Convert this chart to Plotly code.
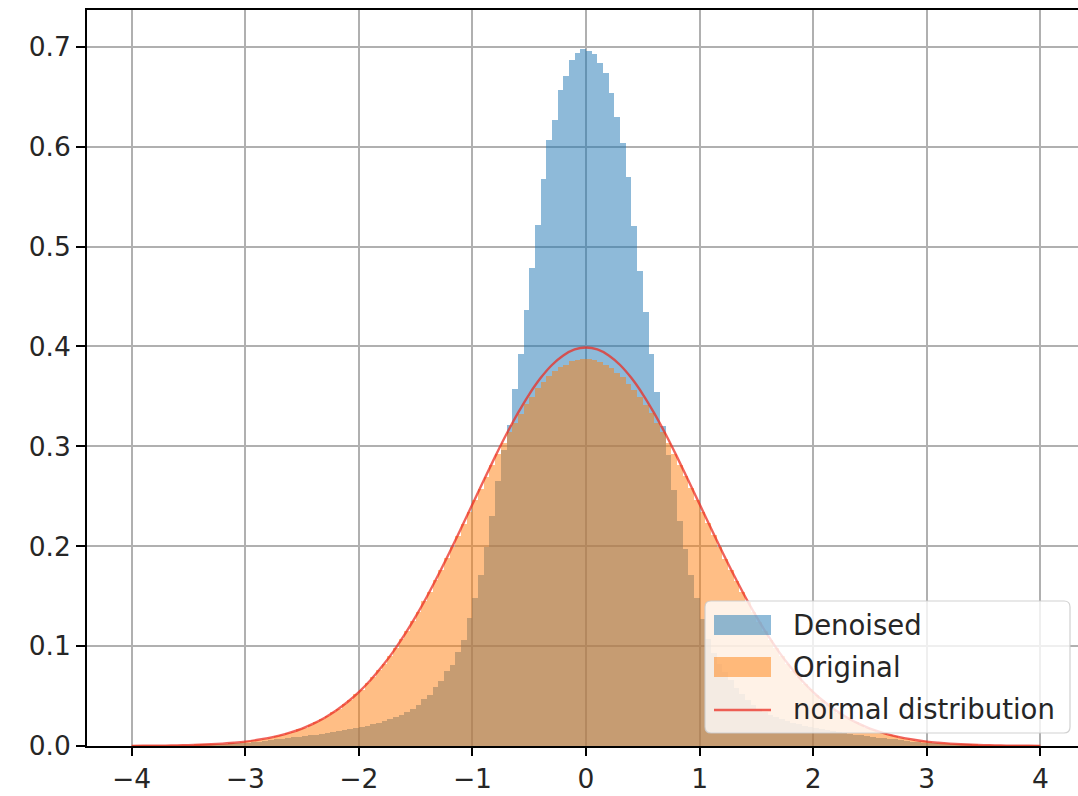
import numpy as np
import plotly.graph_objects as go

# Histogram bins: 160 bins of width 0.05 spanning [-4, 4]
BIN_START = -4.0
BIN_WIDTH = 0.05

# Density of the denoised signal per bin (left to right)
denoised = [
    0.0002, 0.0003, 0.0002, 0.0004, 0.0003, 0.0005, 0.0004, 0.0006, 0.0008, 0.0007,
    0.0010, 0.0009, 0.0013, 0.0013, 0.0017, 0.0019, 0.0020, 0.0026, 0.0026, 0.0032,
    0.0034, 0.0042, 0.0044, 0.0053, 0.0058, 0.0068, 0.0071, 0.0079, 0.0088, 0.0092,
    0.0098, 0.0108, 0.0112, 0.0119, 0.0133, 0.0138, 0.0154, 0.0158, 0.0172, 0.0179,
    0.0193, 0.0204, 0.0216, 0.0235, 0.0247, 0.0274, 0.0288, 0.0314, 0.0336, 0.0375,
    0.0408, 0.0466, 0.0515, 0.0588, 0.0655, 0.0748, 0.0815, 0.0942, 0.1065, 0.1278,
    0.1485, 0.1712, 0.1995, 0.2302, 0.2655, 0.2968, 0.3215, 0.3570, 0.3920, 0.4365,
    0.4790, 0.5215, 0.5680, 0.6070, 0.6265, 0.6570, 0.6705, 0.6870, 0.6935, 0.6975,
    0.6960, 0.6925, 0.6840, 0.6735, 0.6540, 0.6295, 0.6035, 0.5700, 0.5205, 0.4760,
    0.4340, 0.3925, 0.3540, 0.3205, 0.2910, 0.2560, 0.2255, 0.1975, 0.1715, 0.1478,
    0.1268, 0.1072, 0.0935, 0.0818, 0.0742, 0.0658, 0.0582, 0.0518, 0.0462, 0.0412,
    0.0368, 0.0342, 0.0308, 0.0292, 0.0268, 0.0251, 0.0228, 0.0221, 0.0198, 0.0191,
    0.0181, 0.0168, 0.0162, 0.0149, 0.0141, 0.0128, 0.0121, 0.0108, 0.0106, 0.0099,
    0.0091, 0.0084, 0.0081, 0.0069, 0.0066, 0.0059, 0.0051, 0.0044, 0.0041, 0.0034,
    0.0031, 0.0026, 0.0025, 0.0020, 0.0018, 0.0015, 0.0014, 0.0011, 0.0010, 0.0008,
    0.0008, 0.0006, 0.0006, 0.0005, 0.0004, 0.0003, 0.0003, 0.0002, 0.0002, 0.0001,
]

# Density of the original signal per bin (left to right)
original = [
    0.0001, 0.0002, 0.0002, 0.0003, 0.0003, 0.0004, 0.0005, 0.0006, 0.0007, 0.0009,
    0.0010, 0.0011, 0.0014, 0.0016, 0.0019, 0.0023, 0.0025, 0.0031, 0.0034, 0.0042,
    0.0047, 0.0056, 0.0063, 0.0075, 0.0084, 0.0098, 0.0110, 0.0128, 0.0144, 0.0166,
    0.0184, 0.0213, 0.0236, 0.0269, 0.0298, 0.0338, 0.0372, 0.0419, 0.0461, 0.0517,
    0.0565, 0.0629, 0.0686, 0.0758, 0.0822, 0.0905, 0.0978, 0.1069, 0.1150, 0.1249,
    0.1340, 0.1447, 0.1542, 0.1657, 0.1760, 0.1878, 0.1988, 0.2105, 0.2225, 0.2340,
    0.2460, 0.2575, 0.2695, 0.2810, 0.2925, 0.3030, 0.3140, 0.3235, 0.3325, 0.3420,
    0.3495, 0.3580, 0.3640, 0.3700, 0.3755, 0.3790, 0.3815, 0.3850, 0.3860, 0.3875,
    0.3870, 0.3865, 0.3840, 0.3810, 0.3780, 0.3735, 0.3690, 0.3625, 0.3560, 0.3490,
    0.3410, 0.3330, 0.3235, 0.3140, 0.3035, 0.2925, 0.2815, 0.2700, 0.2580, 0.2465,
    0.2345, 0.2228, 0.2108, 0.1992, 0.1876, 0.1760, 0.1652, 0.1545, 0.1440, 0.1340,
    0.1245, 0.1150, 0.1064, 0.0978, 0.0900, 0.0824, 0.0753, 0.0686, 0.0625, 0.0566,
    0.0512, 0.0463, 0.0415, 0.0374, 0.0335, 0.0299, 0.0266, 0.0237, 0.0210, 0.0185,
    0.0164, 0.0144, 0.0127, 0.0110, 0.0097, 0.0085, 0.0073, 0.0064, 0.0055, 0.0048,
    0.0041, 0.0035, 0.0030, 0.0026, 0.0022, 0.0019, 0.0016, 0.0013, 0.0011, 0.0010,
    0.0008, 0.0007, 0.0006, 0.0005, 0.0004, 0.0003, 0.0003, 0.0002, 0.0002, 0.0001,
]

# Reference standard normal curve, sampled every 0.1 from -4 to 4
normal_x = [round(-4.0 + 0.1 * i, 1) for i in range(81)]
normal_half = [
    0.3989, 0.3970, 0.3910, 0.3814, 0.3683, 0.3521, 0.3332, 0.3123, 0.2897, 0.2661,
    0.2420, 0.2179, 0.1942, 0.1714, 0.1497, 0.1295, 0.1109, 0.0940, 0.0790, 0.0656,
    0.0540, 0.0440, 0.0355, 0.0283, 0.0224, 0.0175, 0.0136, 0.0104, 0.0079, 0.0060,
    0.0044, 0.0033, 0.0024, 0.0017, 0.0012, 0.0009, 0.0006, 0.0004, 0.0003, 0.0002,
    0.0001,
]
normal_y = normal_half[::-1] + normal_half[1:]

x_ticks = [-4, -3, -2, -1, 0, 1, 2, 3, 4]
y_ticks = [0.0, 0.1, 0.2, 0.3, 0.4, 0.5, 0.6, 0.7]
legend_labels = ["Denoised", "Original", "normal distribution"]

BLUE = "rgba(31,119,180,0.5)"
ORANGE = "rgba(255,127,14,0.5)"
RED = "rgba(235,45,35,0.75)"
TEXT = "#262626"
FONT = "DejaVu Sans"
TICK_SIZE = 26.5
LEGEND_SIZE = 27.5

centers = BIN_START + BIN_WIDTH * (np.arange(len(denoised)) + 0.5)

fig = go.Figure()
fig.add_trace(go.Bar(x=centers, y=denoised, width=BIN_WIDTH, name=legend_labels[0],
                     marker=dict(color="#1f77b4", line=dict(width=0)),
                     opacity=0.5, showlegend=False))
fig.add_trace(go.Bar(x=centers, y=original, width=BIN_WIDTH, name=legend_labels[1],
                     marker=dict(color="#ff7f0e", line=dict(width=0)),
                     opacity=0.5, showlegend=False))
fig.add_trace(go.Scatter(x=normal_x, y=normal_y, mode="lines", name=legend_labels[2],
                         line=dict(color=RED, width=2.4, shape="spline"),
                         showlegend=False))

# Figure geometry (pixels)
W, H = 1078, 796
ML, MR, MT, MB = 87, 0, 10, 50
PW, PH = W - ML - MR, H - MT - MB


def px(xp):
    return (xp - ML) / PW


def py(yp):
    return (H - MB - yp) / PH


# Legend drawn as shapes + text, matplotlib style
shapes = []
bx0, bx1, by0, by1, r = 705, 1070, 601, 733, 6
path = (
    f"M {px(bx0 + r)} {py(by0)} L {px(bx1 - r)} {py(by0)} "
    f"Q {px(bx1)} {py(by0)} {px(bx1)} {py(by0 + r)} "
    f"L {px(bx1)} {py(by1 - r)} Q {px(bx1)} {py(by1)} {px(bx1 - r)} {py(by1)} "
    f"L {px(bx0 + r)} {py(by1)} Q {px(bx0)} {py(by1)} {px(bx0)} {py(by1 - r)} "
    f"L {px(bx0)} {py(by0 + r)} Q {px(bx0)} {py(by0)} {px(bx0 + r)} {py(by0)} Z"
)
shapes.append(dict(type="path", xref="paper", yref="paper", path=path,
                   fillcolor="rgba(255,255,255,0.8)",
                   line=dict(color="rgba(204,204,204,0.9)", width=1.2), layer="above"))
row_y = [625, 667, 709]
shapes.append(dict(type="rect", xref="paper", yref="paper",
                   x0=px(714), x1=px(771), y0=py(615), y1=py(635),
                   fillcolor=BLUE, line=dict(width=0), layer="above"))
shapes.append(dict(type="rect", xref="paper", yref="paper",
                   x0=px(714), x1=px(771), y0=py(657), y1=py(677),
                   fillcolor=ORANGE, line=dict(width=0), layer="above"))
shapes.append(dict(type="line", xref="paper", yref="paper",
                   x0=px(714), x1=px(771), y0=py(710), y1=py(710),
                   line=dict(color=RED, width=2.4), layer="above"))

annotations = [
    dict(x=px(791), y=py(yy), xref="paper", yref="paper", text=t, showarrow=False,
         xanchor="left", yanchor="middle",
         font=dict(family=FONT, size=LEGEND_SIZE, color=TEXT))
    for t, yy in zip(legend_labels, row_y)
]

fig.update_layout(
    width=W, height=H,
    margin=dict(l=ML, r=MR, t=MT, b=MB, autoexpand=False),
    paper_bgcolor="white", plot_bgcolor="white",
    barmode="overlay", bargap=0,
    font=dict(family=FONT, size=TICK_SIZE, color=TEXT),
    shapes=shapes, annotations=annotations,
    showlegend=False,
)
fig.update_xaxes(
    range=[-4.393, 4.331], tickvals=x_ticks, tickformat="d",
    showgrid=True, gridcolor="#b0b0b0", gridwidth=1.5, zeroline=False,
    showline=True, linecolor="black", linewidth=1.8, mirror=True,
    ticks="outside", ticklen=8, tickwidth=1.8, tickcolor="black",
    ticklabelstandoff=0, automargin=False,
    tickfont=dict(family=FONT, size=TICK_SIZE, color=TEXT),
)
fig.update_yaxes(
    range=[0, 0.7368], tickvals=y_ticks, tickformat=".1f",
    showgrid=True, gridcolor="#b0b0b0", gridwidth=1.5, zeroline=False,
    showline=True, linecolor="black", linewidth=1.8, automargin=False,
    ticks="outside", ticklen=9, tickwidth=1.8, tickcolor="black",
    tickfont=dict(family=FONT, size=TICK_SIZE, color=TEXT),
)

fig.write_html("out.html")
